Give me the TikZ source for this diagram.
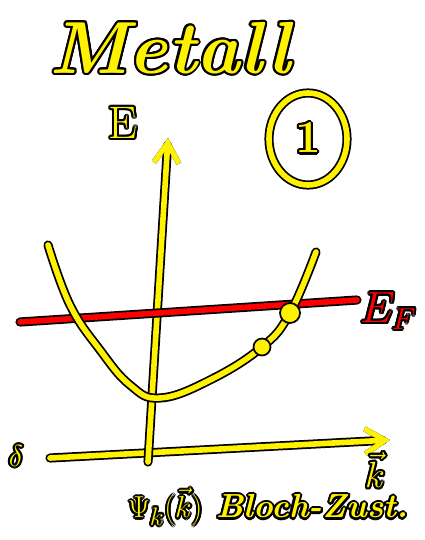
\documentclass[tikz,border=0pt]{standalone}
\usepackage{amssymb}
\usepackage{contour}
\usetikzlibrary{arrows.meta,shapes.geometric}
\contourlength{1.2pt}

\tikzset{
  pen/.style={yellow, line width=3.2pt, line cap=round, line join=round,
    preaction={draw=black, line width=5.2pt, line cap=round, line join=round}},
  redpen/.style={red, line width=3.2pt, line cap=round,
    preaction={draw=black, line width=5.2pt, line cap=round}},
  hand/.style={inner sep=0pt, font=\bfseries\itshape},
  tip/.style={-{Straight Barb[length=4mm, width=5mm, line width=3pt]}},
}

\begin{document}
\begin{tikzpicture}
  \useasboundingbox (0,0) rectangle (8.5,-10.8);
  % labels
  \node[hand, font=\fontsize{42}{48}\selectfont\bfseries\itshape](title) at (3.4, -0.98){\contour{black}{\color{yellow}Metall}};
  \node[hand, font=\fontsize{26}{30}\selectfont](elabel) at (2.46, -2.48){\contour{black}{\color{yellow}E}};
  \node[draw=yellow, line width=3.2pt, preaction={draw=black, line width=5.2pt}, ellipse, minimum width=1.56cm, minimum height=1.84cm, inner sep=0pt](nummer) at (6.16, -2.78){};
  \node[hand, font=\fontsize{26}{30}\selectfont\bfseries](eins) at (nummer.center){\contour{black}{\color{yellow}1}};
  % axes
  \coordinate (ebot) at (2.96, -9.24);
  \coordinate (etop) at (3.36, -2.76);
  \coordinate (kleft) at (1.0, -9.16);
  \coordinate (kright) at (7.8, -8.8);
  \draw[pen, tip] (kleft) -- (kright);
  \draw[pen, tip] (ebot) -- (etop);
  \node[hand, font=\fontsize{18}{20}\selectfont](null) at (0.32, -9.14){\contour{black}{\color{yellow}$\delta$}};
  \node[hand, font=\fontsize{20}{22}\selectfont](klabel) at (7.5, -9.42){\contour{black}{\color{yellow}$\vec{k}$}};
  % Fermi level
  \coordinate (fleft) at (0.4, -6.44);
  \coordinate (fright) at (7.14, -6.0);
  \draw[redpen] (fleft) -- (fright);
  \node[hand, font=\fontsize{26}{30}\selectfont, anchor=west](flabel) at (7.2, -6.24){\contour{black}{\color{red}$E_F$}};
  % band
  \draw[pen] plot[smooth, tension=0.7] coordinates {(0.96,-4.9) (1.4,-6.1) (2.0,-7.0) (2.6,-7.7) (3.2,-7.96) (4.2,-7.6) (5.24,-6.94) (5.8,-6.26) (6.32,-5.04)};
  \node[circle, fill=yellow, draw=black, line width=1pt, minimum size=0.4cm, inner sep=0pt](p1) at (5.8, -6.26){};
  \node[circle, fill=yellow, draw=black, line width=1pt, minimum size=0.34cm, inner sep=0pt](p2) at (5.24, -6.94){};
  % caption
  \node[hand, font=\fontsize{19}{22}\selectfont\bfseries\itshape](bloch) at (5.36, -10.16){\contour{black}{\color{yellow}$\Psi_k(\vec{k})$ Bloch-Zust.}};
\end{tikzpicture}
\end{document}
